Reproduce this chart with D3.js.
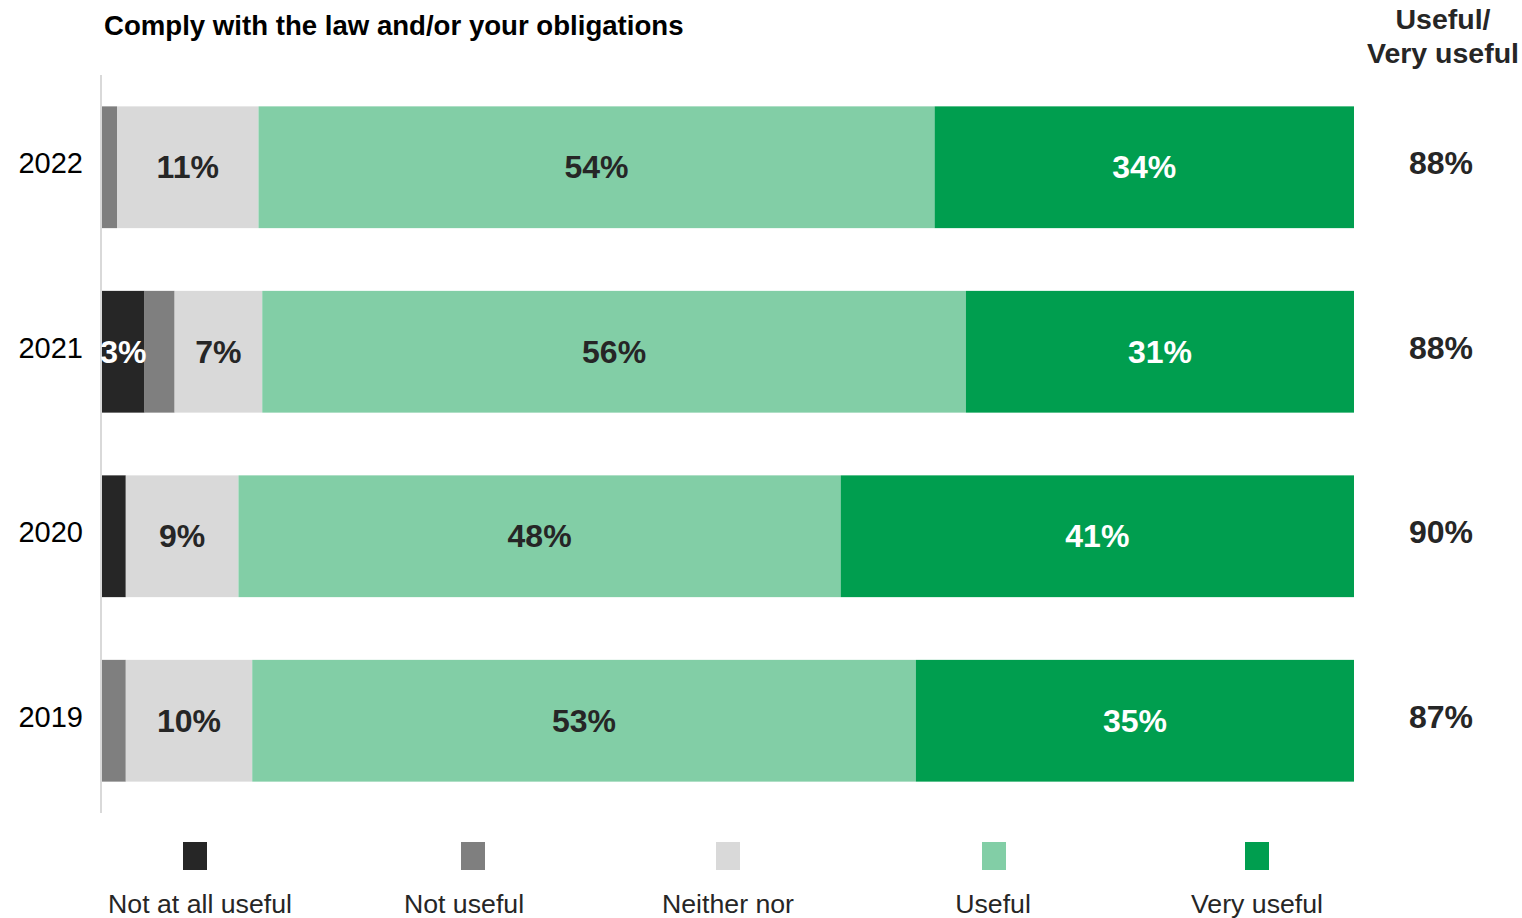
<!DOCTYPE html>
<html>
<head>
<meta charset="utf-8">
<script src="https://cdn.jsdelivr.net/npm/d3@7"></script>
<style>
  body { margin: 0; background: #fff; }
  text { font-family: "Liberation Sans", Arial, sans-serif; }
</style>
</head>
<body>
<div id="chart"></div>
<script>
// data (percent of respondents)
const years = ["2022", "2021", "2020", "2019"];
const categories = ["Not at all useful", "Not useful", "Neither nor", "Useful", "Very useful"];
const notAtAll = [0, 3.4, 1.9, 0];
const notUseful = [1.2, 2.4, 0, 1.9];
const neither = [11.3, 7.0, 9.0, 10.1];
const useful = [54.0, 56.2, 48.1, 53.0];
const veryUseful = [33.5, 31.0, 41.0, 35.0];
const totals = ["88%", "88%", "90%", "87%"];
const colors = ["#262626", "#7f7f7f", "#d9d9d9", "#82cea6", "#009e4f"];
const labelColors = ["#ffffff", "#ffffff", "#262626", "#262626", "#ffffff"];

const width = 1522, height = 918;
const margins = { top: 75, right: 168, bottom: 105, left: 102 };

const rows = years.map((y, i) => {
  const vals = [notAtAll[i], notUseful[i], neither[i], useful[i], veryUseful[i]];
  let acc = 0;
  return { year: y, segs: vals.map((v, k) => { const s = { k: k, x0: acc, v: v }; acc += v; return s; }) };
});

const x_scale = d3.scaleLinear().domain([0, 100]).range([margins.left, width - margins.right]);
const y_scale = d3.scaleBand().domain(years)
  .range([margins.top, height - margins.bottom]).paddingInner(0.34).paddingOuter(0.17);

const svg = d3.select("#chart").append("svg")
  .attr("width", width).attr("height", height);

svg.append("text")
  .attr("x", 104).attr("y", 35)
  .attr("font-size", 27.6).attr("font-weight", "bold").attr("fill", "#000")
  .text("Comply with the law and/or your obligations");

const hdr = svg.append("text")
  .attr("x", 1443).attr("text-anchor", "middle")
  .attr("font-size", 28.5).attr("font-weight", "bold").attr("fill", "#262626");
hdr.append("tspan").attr("x", 1443).attr("y", 29).text("Useful/");
hdr.append("tspan").attr("x", 1443).attr("y", 63).text("Very useful");

// y axis line + year labels
const y_axis = d3.axisLeft(y_scale).tickSize(0).tickPadding(18);
const ga = svg.append("g").attr("transform", `translate(${margins.left - 1},0)`).call(y_axis);
ga.select(".domain").attr("stroke", "#d9d9d9").attr("stroke-width", 2)
  .attr("d", `M0,${margins.top}V${height - margins.bottom}`);
ga.selectAll(".tick text").attr("font-size", 29).attr("fill", "#000")
  .attr("font-family", "Liberation Sans, Arial, sans-serif").attr("dy", "0.2em");

const rowG = svg.selectAll(".row").data(rows).enter().append("g")
  .attr("class", "row")
  .attr("transform", d => `translate(0,${y_scale(d.year)})`);

rowG.selectAll("rect").data(d => d.segs.filter(s => s.v > 0)).enter().append("rect")
  .attr("x", s => x_scale(s.x0))
  .attr("width", s => x_scale(s.x0 + s.v) - x_scale(s.x0))
  .attr("y", 0).attr("height", y_scale.bandwidth())
  .attr("fill", s => colors[s.k]);

rowG.selectAll(".lbl").data(d => d.segs.filter(s => s.v >= 3)).enter().append("text")
  .attr("class", "lbl")
  .attr("x", s => x_scale(s.x0 + s.v / 2))
  .attr("y", y_scale.bandwidth() / 2 + 11)
  .attr("text-anchor", "middle")
  .attr("font-size", 32).attr("font-weight", "bold")
  .attr("fill", s => labelColors[s.k])
  .text(s => Math.round(s.v) + "%");

rowG.append("text")
  .attr("x", 1441).attr("y", y_scale.bandwidth() / 2 + 7)
  .attr("text-anchor", "middle")
  .attr("font-size", 32).attr("font-weight", "bold").attr("fill", "#262626")
  .text((d, i) => totals[i]);

// legend
const legend_x = d3.scaleOrdinal().domain(categories).range([195, 473, 728, 994, 1257]);
const label_shift = [5, -9, 0, -1, 0];
const lg = svg.selectAll(".leg").data(categories).enter().append("g")
  .attr("class", "leg")
  .attr("transform", d => `translate(${legend_x(d)},0)`);
lg.append("rect").attr("x", -12).attr("y", 842).attr("width", 24).attr("height", 28)
  .attr("fill", (d, i) => colors[i]);
lg.append("text").attr("x", (d, i) => label_shift[i]).attr("y", 913).attr("text-anchor", "middle")
  .attr("font-size", 26.7).attr("fill", "#262626")
  .text(d => d);
</script>
</body>
</html>
